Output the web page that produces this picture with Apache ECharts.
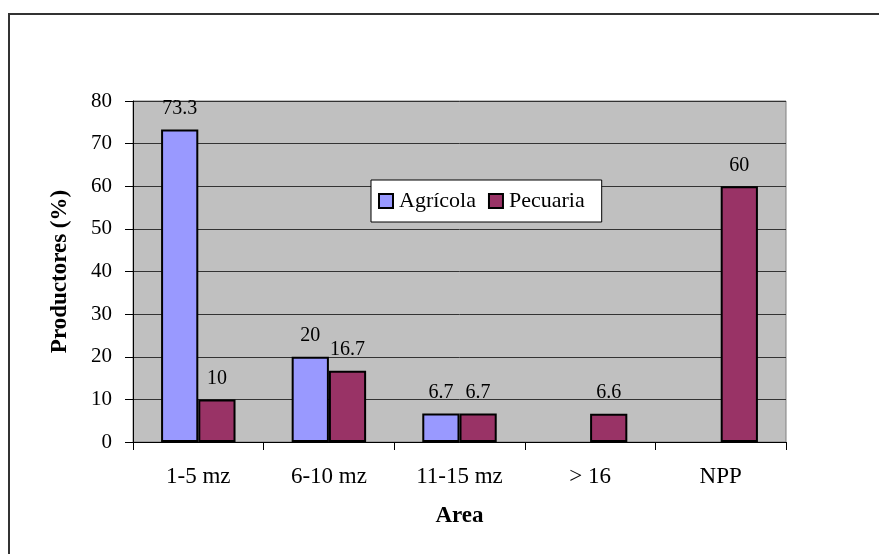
<!DOCTYPE html>
<html>
<head>
<meta charset="utf-8">
<script src="https://cdn.jsdelivr.net/npm/echarts@6/dist/echarts.min.js"></script>
<style>
  html, body { margin: 0; padding: 0; background: #fff; }
  #chart { width: 879px; height: 554px; }
</style>
</head>
<body>
<div id="chart"></div>
<script>
// Producer distribution by farm area
const categories = ['1-5 mz', '6-10 mz', '11-15 mz', '> 16', 'NPP'];
const agricola = [73.3, 20, 6.7, null, null];
const pecuaria = [10, 16.7, 6.7, 6.6, 60];
const yTicks = { min: 0, max: 80, interval: 10 };

const serif = '"Liberation Serif", "Times New Roman", serif';

const chart = echarts.init(document.getElementById('chart'));

const labelStyle = {
  show: true,
  position: 'top',
  distance: 11,
  fontFamily: serif,
  fontSize: 20,
  color: '#000',
  formatter: p => (p.value == null ? '' : String(p.value))
};

chart.setOption({
  animation: false,
  backgroundColor: '#fff',
  textStyle: { fontFamily: serif },
  graphic: [{
    type: 'polyline',
    shape: { points: [[9, 554], [9, 14], [879, 14]] },
    style: { stroke: '#333', lineWidth: 2, fill: null },
    silent: true
  }],
  grid: {
    left: 133, top: 101, right: 93, bottom: 112,
    show: true,
    backgroundColor: '#c0c0c0',
    borderColor: '#808080',
    borderWidth: 1
  },
  legend: {
    left: 371, top: 180,
    padding: [10, 17, 10, 7],
    backgroundColor: '#fff',
    borderColor: '#000',
    borderWidth: 1,
    itemWidth: 14, itemHeight: 14,
    itemGap: 12,
    icon: 'rect',
    textStyle: { fontFamily: serif, fontSize: 22, color: '#000', padding: [0, 0, 0, 1] },
    data: ['Agrícola', 'Pecuaria']
  },
  xAxis: {
    type: 'category',
    data: categories,
    name: 'Area',
    nameLocation: 'middle',
    nameGap: 63,
    nameTextStyle: { fontFamily: serif, fontSize: 23, fontWeight: 'bold', color: '#000' },
    axisLine: { lineStyle: { color: '#000', width: 1 } },
    axisTick: { show: true, length: 8, lineStyle: { color: '#000' } },
    axisLabel: { fontFamily: serif, fontSize: 23, color: '#000', margin: 23 },
    splitLine: { show: false }
  },
  yAxis: {
    type: 'value',
    min: yTicks.min, max: yTicks.max, interval: yTicks.interval,
    name: 'Productores (%)',
    nameLocation: 'middle',
    nameGap: 61,
    nameTextStyle: { fontFamily: serif, fontSize: 23, fontWeight: 'bold', color: '#000' },
    axisLine: { show: true, lineStyle: { color: '#000', width: 1 } },
    axisTick: { show: true, length: 8, lineStyle: { color: '#000' } },
    axisLabel: { fontFamily: serif, fontSize: 21, color: '#000', margin: 21 },
    splitLine: { show: true, lineStyle: { color: '#333', width: 1 } }
  },
  series: [
    {
      name: 'Agrícola',
      type: 'bar',
      data: agricola,
      barGap: '0%',
      barCategoryGap: '43%',
      itemStyle: { color: '#9999ff', borderColor: '#000', borderWidth: 2 },
      label: labelStyle
    },
    {
      name: 'Pecuaria',
      type: 'bar',
      data: pecuaria,
      barGap: '0%',
      barCategoryGap: '43%',
      itemStyle: { color: '#993366', borderColor: '#000', borderWidth: 2 },
      label: labelStyle
    }
  ]
});
</script>
</body>
</html>
